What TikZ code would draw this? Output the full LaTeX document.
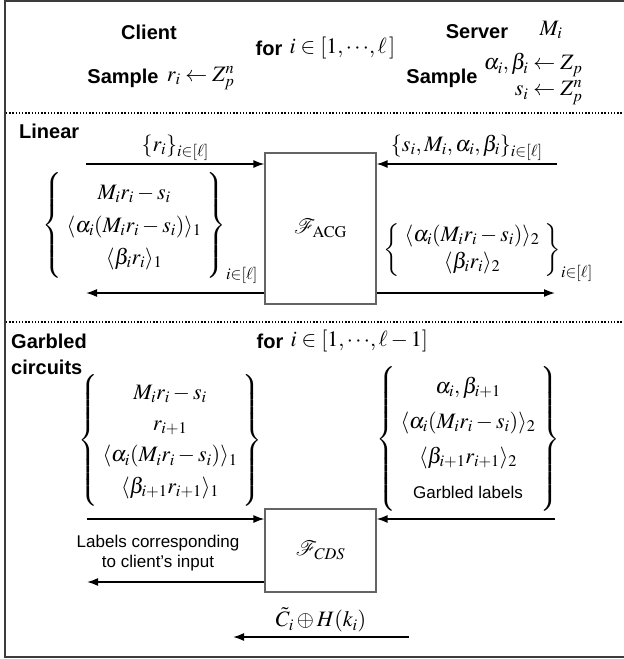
\documentclass[tikz,border=0pt]{standalone}
\usepackage{amsmath}
\usepackage{mathptmx}
\usepackage{mathrsfs}
\usepackage[no-math]{fontspec}
\setmainfont{Liberation Serif}
\setsansfont{Liberation Sans}
\usetikzlibrary{arrows.meta, positioning}
\definecolor{framegray}{RGB}{60,60,60}
\definecolor{boxgray}{RGB}{100,100,100}
\newcommand{\ang}[1]{\langle #1\rangle}
\newcommand{\grp}[2]{\renewcommand{\arraystretch}{#1}\begin{array}{c}#2\end{array}}

\begin{document}
\begin{tikzpicture}[x=1pt, y=-1pt,
  head/.style={font=\fontsize{20}{26}\selectfont\sffamily\bfseries, inner sep=1pt},
  mth/.style={font=\fontsize{22}{26}\selectfont, inner sep=1pt},
  note/.style={font=\fontsize{17}{20}\selectfont\sffamily, align=center, inner sep=1pt},
  func/.style={rectangle, draw=boxgray, line width=1.1pt, minimum width=111pt,
               font=\fontsize{22}{26}\selectfont},
  arr/.style={-{Latex[length=11pt, width=8pt]}, line width=1.6pt},
  sep/.style={line width=1.3pt, dash pattern=on 1.3pt off 1.9pt},
]
  \useasboundingbox (0,0) rectangle (624,659);

  % Frame and section rules
  \draw[framegray, line width=2pt] (630,1) -- (5,1) -- (5,657) -- (630,657);
  \coordinate (ruleA) at (6,113);
  \coordinate (ruleB) at (6,322);
  \draw[sep] (ruleA) -- ++(620,0);
  \draw[sep] (ruleB) -- ++(620,0);

  % Setup
  \node[head] (client) at (149,32) {Client};
  \node[head] (server) at (477,32) {Server};
  \node[mth]  (secret) at (551,30) {$M_i$};
  \node[head] (forA) at (269,48) {for};
  \node[mth, right=5pt of forA] (rangeA) {$i\in[1,{\cdots},\ell\,]$};
  \node[head] (sampC) at (123,78) {Sample};
  \node[mth, right=6pt of sampC] (randC) {$r_i\leftarrow Z_p^n$};
  \node[head] (sampS) at (442,78) {Sample};
  \node[mth, right=4pt of sampS] (randS)
    {$\renewcommand{\arraystretch}{1.0}\begin{array}{@{}r@{}}
      \alpha_i,\beta_i\leftarrow Z_p\\ s_i\leftarrow Z_p^n\end{array}$};

  % Linear
  \node[head, anchor=west] (linear) at (18,131) {Linear};
  \node[func, minimum height=151pt] (acg) at (320.5,228.5) {$\mathscr{F}_{\mathrm{ACG}}$};
  \coordinate (cinL)  at (86,164);
  \coordinate (sinL)  at (557,164);
  \coordinate (coutL) at (86,293);
  \coordinate (soutL) at (555,293);
  \draw[arr] (cinL) -- node[mth, above=2pt]{$\{r_i\}_{i\in[\ell]}$} (cinL -| acg.west);
  \draw[arr] (sinL) -- node[mth, above=2pt]{$\{s_i,M_i,\alpha_i,\beta_i\}_{i\in[\ell]}$} (sinL -| acg.east);
  \draw[arr] (coutL -| acg.west) -- (coutL);
  \draw[arr] (soutL -| acg.east) -- (soutL);
  \node[mth] (shareC) at (150,228)
    {$\left\{\grp{1.25}{M_ir_i-s_i\\ \ang{\alpha_i(M_ir_i-s_i)}_1\\ \ang{\beta_ir_i}_1}\right\}_{i\in[\ell]}$};
  \node[mth] (shareS) at (488,252)
    {$\left\{\grp{1.05}{\ang{\alpha_i(M_ir_i-s_i)}_2\\ \ang{\beta_ir_i}_2}\right\}_{i\in[\ell]}$};

  % Garbled circuits
  \node[head, anchor=west, align=left] (garbled) at (10,354) {Garbled\\circuits};
  \node[head] (forB) at (270,341) {for};
  \node[mth, right=5pt of forB] (rangeB) {$i\in[1,{\cdots},\ell-1]$};
  \node[mth] (labC) at (170,440)
    {$\left\{\grp{1.2}{M_ir_i-s_i\\ r_{i+1}\\ \ang{\alpha_i(M_ir_i-s_i)}_1\\ \ang{\beta_{i+1}r_{i+1}}_1}\right\}$};
  \node[mth] (labS) at (468,439)
    {$\left\{\grp{1.35}{\alpha_i,\beta_{i+1}\\ \ang{\alpha_i(M_ir_i-s_i)}_2\\ \ang{\beta_{i+1}r_{i+1}}_2\\
      \mbox{\fontsize{17}{20}\selectfont\sffamily Garbled labels}}\right\}$};
  \node[func, minimum height=83pt] (cds) at (320.5,550.5) {$\mathscr{F}_{CDS}$};
  \coordinate (cinG)  at (87,519);
  \coordinate (sinG)  at (555,519);
  \coordinate (coutG) at (87,582);
  \draw[arr] (cinG) -- (cinG -| cds.west);
  \draw[arr] (sinG) -- (sinG -| cds.east);
  \draw[arr] (coutG -| cds.west) -- (coutG);
  \node[note] (labnote) at (158,553) {Labels corresponding\\to client's input};
  \coordinate (ctS) at (409,637);
  \coordinate (ctC) at (233,637);
  \draw[arr] (ctS) -- node[mth, above=3pt]{$\tilde{C}_i\oplus H(k_i)$} (ctC);

\end{tikzpicture}
\end{document}
